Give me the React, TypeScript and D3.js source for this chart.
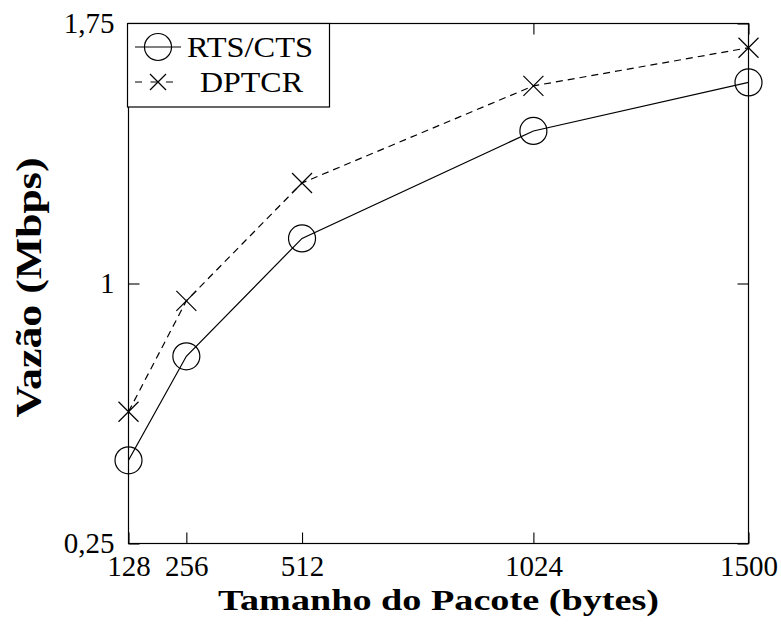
import * as React from 'react';
import * as d3 from 'd3';

// packet sizes (bytes) and throughput (Mbps)
const sizes = [128, 256, 512, 1024, 1500];
const rtsCts = [0.49, 0.79, 1.13, 1.44, 1.58];
const dptcr = [0.63, 0.95, 1.29, 1.57, 1.68];
const yTicks = [0.25, 1, 1.75];
const seriesNames = ['RTS/CTS', 'DPTCR'];

const font = '"Liberation Serif", serif';

class ThroughputChart extends React.Component {
  private element;

  componentDidMount() {
    this.init();
  }

  init() {
    const svg = d3.select(this.element);
    svg.selectAll('*').remove();

    const left = 128.5, right = 748.5, top = 23.5, bottom = 543.5;
    const x = d3.scaleLinear().domain([128, 1500]).range([left, right]);
    const y = d3.scaleLinear().domain([0.25, 1.75]).range([bottom, top]);
    const fmt = (d: any) => String(d).replace('.', ',');

    // mirrored inward ticks
    const tick = 11;
    const xBottom = d3.axisBottom(x).tickValues(sizes).tickSizeInner(-tick).tickSizeOuter(0)
      .tickPadding(12).tickFormat((d: any) => String(d));
    const xTop = d3.axisTop(x).tickValues(sizes).tickSizeInner(-tick).tickSizeOuter(0).tickFormat(() => '');
    const yLeft = d3.axisLeft(y).tickValues(yTicks).tickSizeInner(-tick).tickSizeOuter(0).tickPadding(14).tickFormat(fmt);
    const yRight = d3.axisRight(y).tickValues(yTicks).tickSizeInner(-tick).tickSizeOuter(0).tickFormat(() => '');

    const styleAxis = (g) => {
      g.select('.domain').remove();
      g.selectAll('line').attr('stroke', '#000').attr('stroke-width', 1.1);
      g.selectAll('text').attr('fill', '#000').attr('font-family', font).attr('font-size', 29);
    };

    svg.append('g').attr('transform', `translate(0,${bottom})`).call(xBottom).call(styleAxis);
    svg.append('g').attr('transform', `translate(0,${top})`).call(xTop).call(styleAxis);
    svg.append('g').attr('transform', `translate(${left},0)`).call(yLeft).call(styleAxis);
    svg.append('g').attr('transform', `translate(${right},0)`).call(yRight).call(styleAxis);

    svg.append('rect')
      .attr('x', left).attr('y', top)
      .attr('width', right - left).attr('height', bottom - top)
      .attr('fill', 'none').attr('stroke', '#000').attr('stroke-width', 1.2);

    const line = d3.line<number>()
      .x((d, i) => x(sizes[i]))
      .y((d) => y(d));

    const crossPath = (s) => `M${-s},${-s}L${s},${s}M${-s},${s}L${s},${-s}`;

    // RTS/CTS
    svg.append('path').datum(rtsCts)
      .attr('d', line).attr('fill', 'none').attr('stroke', '#000').attr('stroke-width', 1.2);
    svg.append('g').selectAll('circle').data(rtsCts).enter()
      .append('circle')
      .attr('cx', (d, i) => x(sizes[i]))
      .attr('cy', (d) => y(d))
      .attr('r', 13.5)
      .attr('fill', 'none').attr('stroke', '#000').attr('stroke-width', 1.2);

    // DPTCR
    svg.append('path').datum(dptcr)
      .attr('d', line).attr('fill', 'none').attr('stroke', '#000').attr('stroke-width', 1.2)
      .attr('stroke-dasharray', '7,5');
    svg.append('g').selectAll('path').data(dptcr).enter()
      .append('path')
      .attr('transform', (d, i) => `translate(${x(sizes[i])},${y(d)})`)
      .attr('d', crossPath(10))
      .attr('fill', 'none').attr('stroke', '#000').attr('stroke-width', 1.2);

    // legend
    const lg = svg.append('g');
    lg.append('rect')
      .attr('x', 127.5).attr('y', 23.5).attr('width', 202).attr('height', 83.5)
      .attr('fill', '#fff').attr('stroke', '#000').attr('stroke-width', 1.2);
    lg.append('line').attr('x1', 135).attr('x2', 181).attr('y1', 47).attr('y2', 47)
      .attr('stroke', '#000').attr('stroke-width', 1.2);
    lg.append('circle').attr('cx', 158).attr('cy', 47).attr('r', 13.5)
      .attr('fill', 'none').attr('stroke', '#000').attr('stroke-width', 1.2);
    lg.append('line').attr('x1', 135).attr('x2', 181).attr('y1', 82).attr('y2', 82)
      .attr('stroke', '#000').attr('stroke-width', 1.2).attr('stroke-dasharray', '7,8.5');
    lg.append('path').attr('transform', 'translate(158,82)').attr('d', crossPath(8))
      .attr('fill', 'none').attr('stroke', '#000').attr('stroke-width', 1.2);
    lg.selectAll('text.entry').data(seriesNames).enter()
      .append('text')
      .attr('class', 'entry')
      .attr('x', (d, i) => (i === 0 ? 187 : 200))
      .attr('y', (d, i) => (i === 0 ? 47 : 82))
      .attr('dy', '0.35em')
      .attr('font-family', font)
      .attr('font-size', 29)
      .attr('textLength', (d, i) => (i === 0 ? 126 : 103))
      .attr('lengthAdjust', 'spacingAndGlyphs')
      .text((d) => d);

    // axis labels
    svg.append('text')
      .attr('x', (left + right) / 2)
      .attr('y', 610)
      .attr('text-anchor', 'middle')
      .attr('font-family', font)
      .attr('font-weight', 'bold')
      .attr('font-size', 30)
      .attr('textLength', 441)
      .attr('lengthAdjust', 'spacingAndGlyphs')
      .text('Tamanho do Pacote (bytes)');

    svg.append('text')
      .attr('transform', `translate(41,${(top + bottom) / 2 + 4}) rotate(-90)`)
      .attr('text-anchor', 'middle')
      .attr('font-family', font)
      .attr('font-weight', 'bold')
      .attr('font-size', 35)
      .attr('textLength', 260)
      .attr('lengthAdjust', 'spacingAndGlyphs')
      .text('Vazão (Mbps)');
  }

  render() {
    return (
      <svg
        ref={(ref) => (this.element = ref)}
        width={781}
        height={627}
        style={{ position: 'absolute', left: 0, top: 0, background: '#fff' }}
      />
    );
  }
}

export default function App() {
  return <ThroughputChart />;
}
